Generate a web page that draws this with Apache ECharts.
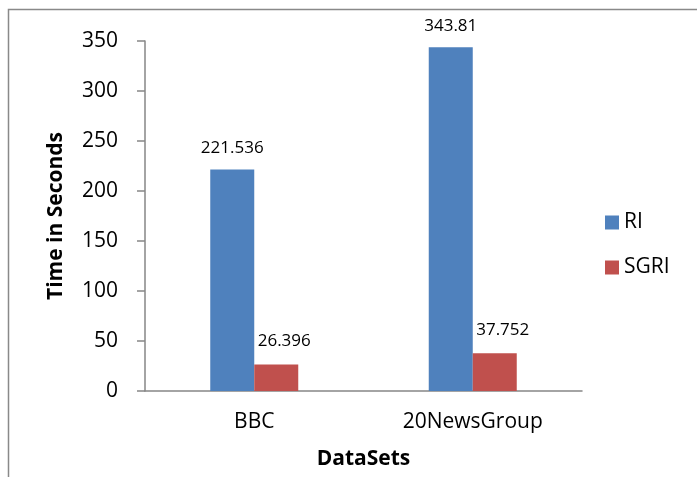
<!DOCTYPE html>
<html lang="en">
<head>
<meta charset="UTF-8" />
<title>Time in Seconds</title>
<style>
  html, body { margin: 0; padding: 0; background: #fff; }
  #chart { width: 697px; height: 477px; }
</style>
</head>
<body>
<div id="chart"></div>
<script src="https://cdn.jsdelivr.net/npm/echarts@6/dist/echarts.min.js"></script>
<script>
  var categories = ["BBC", "20NewsGroup"];
  var riValues = [221.536, 343.81];
  var sgriValues = [26.396, 37.752];
  var seriesNames = ["RI", "SGRI"];

  var font = "'Open Sans', 'Liberation Sans', sans-serif";
  var chart = echarts.init(document.getElementById("chart"));

  var option = {
    animation: false,
    textStyle: { fontFamily: font },
    // outer frame of the chart area
    graphic: [{
      type: "rect",
      shape: { x: 8.5, y: 9.5, width: 720, height: 500 },
      style: { fill: "none", stroke: "#898989", lineWidth: 1.5 }
    }],
    legend: {
      orient: "vertical",
      left: 600,
      top: 207,
      itemWidth: 14,
      itemHeight: 14,
      itemGap: 24,
      icon: "rect",
      data: seriesNames,
      textStyle: { fontSize: 21, color: "#000", fontFamily: font }
    },
    grid: { left: 145, right: 115, top: 41, bottom: 86 },
    xAxis: {
      type: "category",
      data: categories,
      name: "DataSets",
      nameLocation: "middle",
      nameGap: 58,
      nameTextStyle: { fontSize: 21, fontWeight: "bold", color: "#000", fontFamily: font },
      axisLine: { lineStyle: { color: "#868686", width: 1.5 } },
      axisTick: { show: false },
      axisLabel: { fontSize: 21, color: "#000", margin: 21, fontFamily: font }
    },
    yAxis: {
      type: "value",
      min: 0,
      max: 350,
      interval: 50,
      name: "Time in Seconds",
      nameLocation: "middle",
      nameGap: 78,
      nameTextStyle: { fontSize: 21, fontWeight: "bold", color: "#000", fontFamily: font },
      splitLine: { show: false },
      axisLine: { show: true, lineStyle: { color: "#868686", width: 1.5 } },
      axisTick: { show: true, inside: false, length: 8, lineStyle: { color: "#868686", width: 1.5 } },
      axisLabel: { fontSize: 21, color: "#000", margin: 27, fontFamily: font }
    },
    series: [
      {
        name: seriesNames[0],
        type: "bar",
        data: riValues,
        barWidth: 44,
        barGap: "0%",
        itemStyle: { color: "#4F81BD" },
        label: { show: true, position: "top", distance: 13, fontSize: 17, color: "#000", fontFamily: font }
      },
      {
        name: seriesNames[1],
        type: "bar",
        data: sgriValues,
        barWidth: 44,
        barGap: "0%",
        itemStyle: { color: "#C0504D" },
        label: { show: true, position: "top", distance: 15, offset: [8, 0], fontSize: 17, color: "#000", fontFamily: font }
      }
    ]
  };
  chart.setOption(option);
</script>
</body>
</html>
